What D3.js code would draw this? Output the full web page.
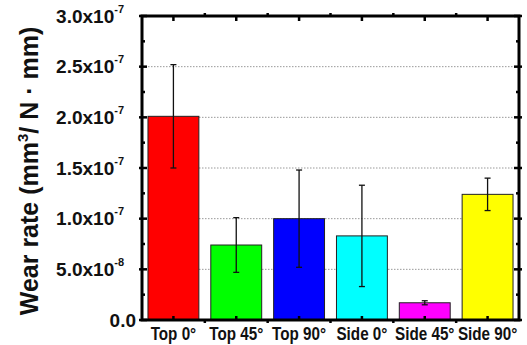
<!DOCTYPE html>
<html><head><meta charset="utf-8">
<script src="https://cdn.jsdelivr.net/npm/d3@7"></script>
<style>body{margin:0;background:#fff}svg{display:block;font-family:"Liberation Sans",Arial,sans-serif;font-weight:bold}</style>
</head><body>
<svg id="c" width="527" height="345"></svg>
<script>
const categories = ["Top 0°","Top 45°","Top 90°","Side 0°","Side 45°","Side 90°"];
const values = [2.01e-7, 0.74e-7, 1.0e-7, 0.83e-7, 0.17e-7, 1.24e-7];
const errors = [0.51e-7, 0.27e-7, 0.48e-7, 0.50e-7, 0.02e-7, 0.16e-7];
const colors = ["#ff0000","#00ff00","#0000ff","#00ffff","#ff00ff","#ffff00"];
const yTicks = [0, 0.5e-7, 1.0e-7, 1.5e-7, 2.0e-7, 2.5e-7, 3.0e-7];
const yTickMant = ["0.0","5.0x10","1.0x10","1.5x10","2.0x10","2.5x10","3.0x10"];
const yTickExp = ["","-8","-7","-7","-7","-7","-7"];

const svg = d3.select("#c");
const L=142, R=519, T=16, B=320;
const x = d3.scaleBand().domain(categories).range([L,R]).paddingInner(0.19).paddingOuter(0.095);
const xb = d3.scaleBand().domain(categories).range([L,R]);
const y = d3.scaleLinear().domain([0,3e-7]).range([B,T]);

// gridlines
svg.append("g").selectAll("line").data(yTicks.filter(d=>d>0&&d<3e-7)).join("line")
  .attr("x1",L).attr("x2",R).attr("y1",d=>y(d)).attr("y2",d=>y(d))
  .attr("stroke","#999").attr("stroke-width",1).attr("stroke-dasharray","1.5,1.5");

// bars
svg.append("g").selectAll("rect").data(categories).join("rect")
  .attr("x",d=>x(d)).attr("width",x.bandwidth())
  .attr("y",(d,i)=>y(values[i])).attr("height",(d,i)=>B-y(values[i]))
  .attr("fill",(d,i)=>colors[i]).attr("stroke","#222").attr("stroke-width",1);

// error bars
const eg = svg.append("g").attr("stroke","#111").attr("stroke-width",1.3);
categories.forEach((c,i)=>{
  const cx = x(c)+x.bandwidth()/2;
  const y1 = y(values[i]+errors[i]), y2 = y(values[i]-errors[i]);
  eg.append("line").attr("x1",cx).attr("x2",cx).attr("y1",y1).attr("y2",y2);
  eg.append("line").attr("x1",cx-3).attr("x2",cx+3).attr("y1",y1).attr("y2",y1);
  eg.append("line").attr("x1",cx-3).attr("x2",cx+3).attr("y1",y2).attr("y2",y2);
});

// ticks
const tg = svg.append("g").attr("stroke","#000");
const minor = d3.range(0,13).map(k=>k*0.25e-7);
minor.forEach((v,k)=>{
  const major = k%2===0;
  const len = major?5:3;
  tg.append("line").attr("x1",L-(major?3:0)).attr("x2",L+len).attr("y1",y(v)).attr("y2",y(v)).attr("stroke-width",2.5);
  tg.append("line").attr("x1",R-len).attr("x2",R+(major?3:0)).attr("y1",y(v)).attr("y2",y(v)).attr("stroke-width",2.5);
});
categories.forEach(c=>{
  const cx = xb(c)+xb.bandwidth()/2;
  tg.append("line").attr("x1",cx).attr("x2",cx).attr("y1",T).attr("y2",T+5).attr("stroke-width",2.5);
  tg.append("line").attr("x1",cx).attr("x2",cx).attr("y1",B).attr("y2",B-4).attr("stroke-width",2.5);
});
xb.domain().slice(1).forEach(c=>{
  const bx = xb(c);
  tg.append("line").attr("x1",bx).attr("x2",bx).attr("y1",T).attr("y2",T-3).attr("stroke-width",2.5);
  tg.append("line").attr("x1",bx).attr("x2",bx).attr("y1",B).attr("y2",B+3).attr("stroke-width",2.5);
});

// frame
svg.append("rect").attr("x",L).attr("y",T).attr("width",R-L).attr("height",B-T)
  .attr("fill","none").attr("stroke","#000").attr("stroke-width",3);

// y labels
const yl = svg.append("g");
yTicks.forEach((v,i)=>{
  const t = yl.append("text").attr("x",yTickExp[i]?124:136).attr("y",y(v)+6.5)
    .attr("text-anchor","end").attr("font-size",19).attr("fill","#111");
  t.append("tspan").text(yTickMant[i]);
  if(yTickExp[i]) t.append("tspan").attr("font-size",11).attr("dy",-10).text(yTickExp[i]);
});

// x labels
svg.append("g").selectAll("text").data(categories).join("text")
  .attr("transform",d=>`translate(${xb(d)+xb.bandwidth()/2},340) scale(0.87,1)`).attr("text-anchor","middle")
  .attr("font-size",17.5).attr("fill","#111").text(d=>d);

// y title
const tt = svg.append("text").attr("transform","translate(38,171) rotate(-90)")
  .attr("text-anchor","middle").attr("font-size",25).attr("fill","#111");
tt.append("tspan").text("Wear rate (mm");
tt.append("tspan").attr("font-size",15).attr("dy",-10).text("3");
tt.append("tspan").attr("dy",10).text("/ N · mm)");
</script>
</body></html>
